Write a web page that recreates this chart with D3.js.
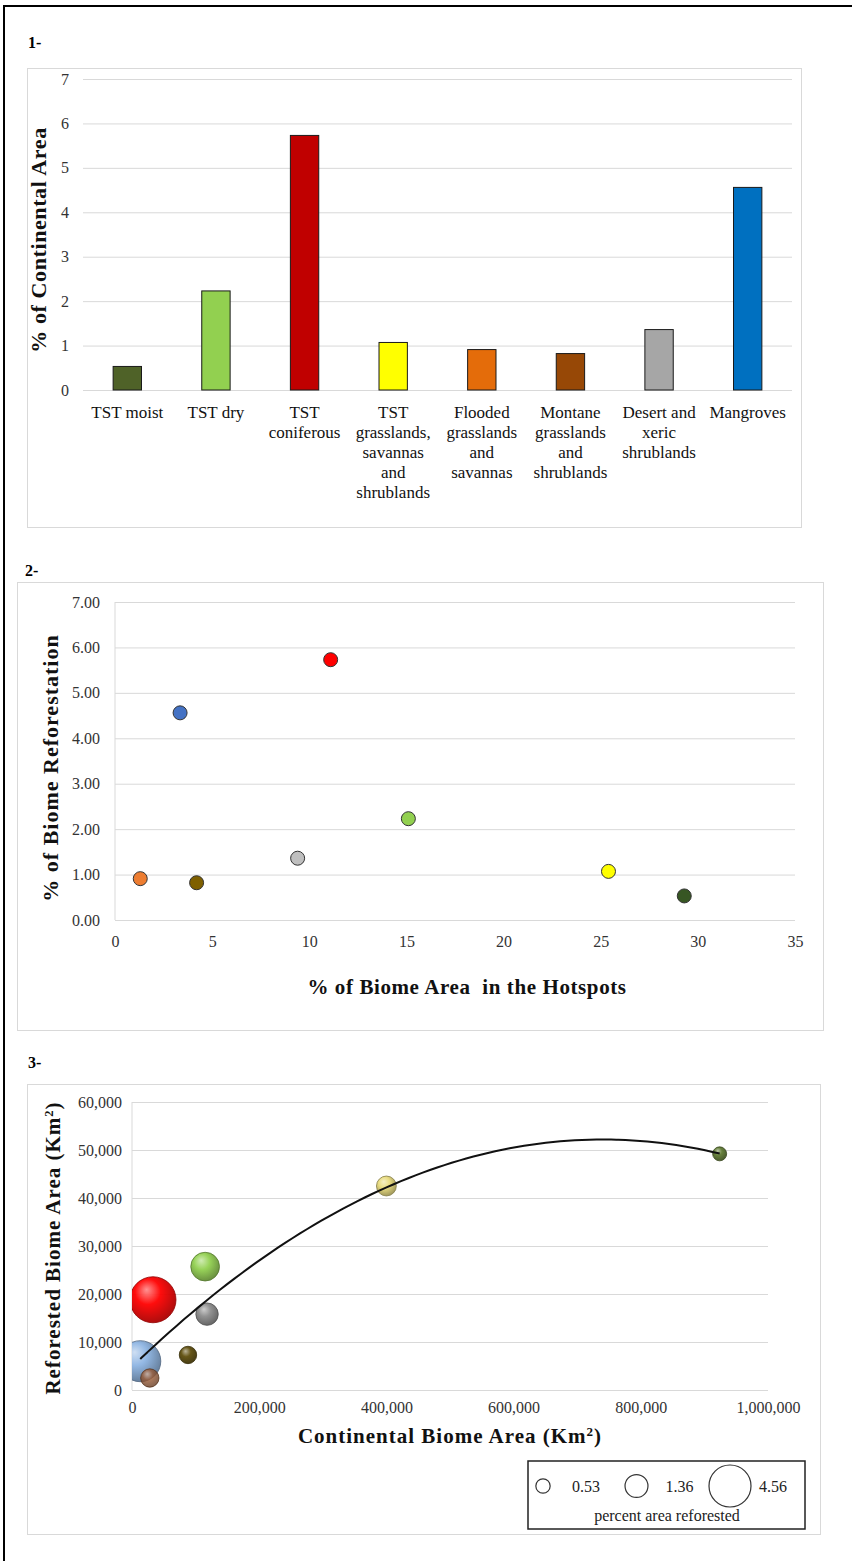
<!DOCTYPE html>
<html>
<head>
<meta charset="utf-8">
<script src="https://cdn.jsdelivr.net/npm/d3@7"></script>
<style>
body { margin: 0; background: #fff; }
svg text { font-family: "Liberation Serif", "Times New Roman", serif; }
</style>
</head>
<body>
<div id="app"></div>
<script>
// DATA ------------------------------------------------------
var categories = ["TST moist", "TST dry", "TST coniferous",
  "TST grasslands, savannas and shrublands", "Flooded grasslands and savannas",
  "Montane grasslands and shrublands", "Desert and xeric shrublands", "Mangroves"];
// how excel wrapped the category names
var labelLines = [["TST moist"], ["TST dry"], ["TST", "coniferous"],
  ["TST", "grasslands,", "savannas", "and", "shrublands"],
  ["Flooded", "grasslands", "and", "savannas"],
  ["Montane", "grasslands", "and", "shrublands"],
  ["Desert and", "xeric", "shrublands"], ["Mangroves"]];
var pctReforested = [0.53, 2.23, 5.73, 1.07, 0.91, 0.82, 1.36, 4.56];   // % of biome reforested
var pctInHotspots = [29.3, 15.1, 11.1, 25.4, 1.3, 4.2, 9.4, 3.35];     // % of biome area in hotspots
var continentalArea = [924000, 115000, 33000, 400000, 28000, 88000, 118000, 13000]; // km2
var reforestedArea = [49200, 25700, 18800, 42500, 2500, 7300, 15800, 6000];        // km2
var legendValues = [0.53, 1.36, 4.56];

var barColors = ["#4f6228", "#92d050", "#c00000", "#ffff00", "#e46c0a", "#974806", "#a6a6a6", "#0070c0"];
var dotColors = ["#375623", "#92d050", "#ff0000", "#ffff00", "#ed7d31", "#7f6000", "#bfbfbf", "#4472c4"];
var bubbleColors = ["#5f7a32", "#92d050", "#ff0000", "#e9db7c", "#9a5a34", "#5e4d0c", "#8c8c8c", "#8db4e2"];

var W = 852, H = 1561;
var grid = "#d9d9d9";
var serif = "'Liberation Serif', 'Times New Roman', serif";

var svg = d3.select("#app").append("svg")
    .attr("width", W)
    .attr("height", H)
    .style("font-family", serif);
var defs = svg.append("defs");

//page frame (only top + left survive the crop)
svg.append("line").attr("x1", 3).attr("x2", W).attr("y1", 6).attr("y2", 6)
    .attr("stroke", "#000").attr("stroke-width", 2);
svg.append("line").attr("x1", 4).attr("x2", 4).attr("y1", 5).attr("y2", H)
    .attr("stroke", "#000").attr("stroke-width", 2);

//chart boxes
function box(x0, y0, x1, y1) {
  svg.append("rect")
      .attr("x", x0 + 0.5).attr("y", y0 + 0.5)
      .attr("width", x1 - x0).attr("height", y1 - y0)
      .attr("fill", "none").attr("stroke", grid);
}
box(27, 68, 801, 527);
box(17, 582, 823, 1030);
box(27, 1084, 820, 1534);

//panel numbers
[["1-", 28, 48], ["2-", 25, 576], ["3-", 28, 1068]].forEach(function(p) {
  svg.append("text").text(p[0])
      .attr("x", p[1]).attr("y", p[2])
      .attr("font-size", 16).attr("font-weight", "bold").attr("fill", "#000");
});

function styleAxis(g) {
  g.select(".domain").remove();
  g.selectAll(".tick line").attr("stroke", grid);
  g.selectAll(".tick text").attr("font-size", 16).attr("fill", "#333");
}

function yTitle(x, y, size, spacing, txt, sup) {
  var t = svg.append("text")
      .attr("transform", "translate(" + x + "," + y + ") rotate(-90)")
      .attr("text-anchor", "middle")
      .attr("font-size", size)
      .attr("font-weight", "bold")
      .attr("letter-spacing", spacing)
      .attr("fill", "#111")
      .text(txt);
  if (sup) {
    t.append("tspan").attr("baseline-shift", "super").attr("font-size", size * 0.6).text("2");
    t.append("tspan").text(")");
  }
}

//---------------------------------Panel 1: bars-----------------------------------//
var x1 = d3.scaleBand().domain(categories).range([83, 792]).paddingInner(0.68).paddingOuter(0.34);
var y1 = d3.scaleLinear().domain([0, 7]).range([390, 79]);

svg.append("g")
    .attr("transform", "translate(83,0)")
    .call(d3.axisLeft(y1).ticks(7).tickSize(-(792 - 83)).tickPadding(14))
    .call(styleAxis);

svg.append("g").selectAll("rect")
  .data(categories)
  .join("rect")
    .attr("x", function(d) { return x1(d); })
    .attr("width", x1.bandwidth())
    .attr("y", function(d, i) { return y1(pctReforested[i]); })
    .attr("height", function(d, i) { return y1(0) - y1(pctReforested[i]); })
    .attr("fill", function(d, i) { return barColors[i]; })
    .attr("stroke", "#1a1a1a")
    .attr("stroke-width", 1);

var lab = svg.append("g").selectAll("text")
  .data(categories)
  .join("text")
    .attr("text-anchor", "middle")
    .attr("font-size", 17)
    .attr("fill", "#111")
    .attr("y", 418);
lab.each(function(d, i) {
  var t = d3.select(this);
  labelLines[i].forEach(function(line, j) {
    t.append("tspan")
        .attr("x", x1(d) + x1.bandwidth() / 2)
        .attr("dy", j === 0 ? 0 : 20)
        .text(line);
  });
});

yTitle(46, 240, 22, 0.6, "% of Continental Area");

//---------------------------------Panel 2: scatter-----------------------------------//
var x2 = d3.scaleLinear().domain([0, 35]).range([115, 795]);
var y2 = d3.scaleLinear().domain([0, 7]).range([920, 602]);

svg.append("g")
    .attr("transform", "translate(115,0)")
    .call(d3.axisLeft(y2).ticks(7).tickFormat(d3.format(".2f")).tickSize(-(795 - 115)).tickPadding(15))
    .call(styleAxis);
svg.append("g")
    .attr("transform", "translate(0,920)")
    .call(d3.axisBottom(x2).ticks(7).tickSize(0).tickPadding(16))
    .call(styleAxis);
svg.append("line").attr("x1", 115).attr("x2", 115).attr("y1", 602).attr("y2", 920).attr("stroke", grid);

svg.append("g").selectAll("circle")
  .data(categories)
  .join("circle")
    .attr("cx", function(d, i) { return x2(pctInHotspots[i]); })
    .attr("cy", function(d, i) { return y2(pctReforested[i]); })
    .attr("r", 7)
    .attr("fill", function(d, i) { return dotColors[i]; })
    .attr("stroke", "#333")
    .attr("stroke-width", 1);

svg.append("text")
    .attr("x", 467).attr("y", 994)
    .attr("text-anchor", "middle")
    .attr("font-size", 21).attr("font-weight", "bold").attr("fill", "#111")
    .attr("letter-spacing", 0.6)
    .style("white-space", "pre")
    .text("% of Biome Area  in the Hotspots");

yTitle(58, 768, 22, 1, "% of Biome Reforestation");

//---------------------------------Panel 3: bubbles-----------------------------------//
var x3 = d3.scaleLinear().domain([0, 1000000]).range([132, 768]);
var y3 = d3.scaleLinear().domain([0, 60000]).range([1390, 1102]);
var r3 = d3.scaleSqrt().domain([0, d3.max(pctReforested)]).range([0, 23]);

svg.append("g")
    .attr("transform", "translate(132,0)")
    .call(d3.axisLeft(y3).ticks(6).tickFormat(d3.format(",")).tickSize(-(768 - 132)).tickPadding(10))
    .call(styleAxis);
svg.append("g")
    .attr("transform", "translate(0,1390)")
    .call(d3.axisBottom(x3).ticks(5).tickFormat(d3.format(",")).tickSize(0).tickPadding(12))
    .call(styleAxis);
svg.append("line").attr("x1", 132).attr("x2", 132).attr("y1", 1102).attr("y2", 1390).attr("stroke", grid);

defs.append("clipPath").attr("id", "plot3")
  .append("rect").attr("x", 132).attr("y", 1095).attr("width", 640).attr("height", 296);

//3d-ish shading like excel bubbles
bubbleColors.forEach(function(c, i) {
  var gr = defs.append("radialGradient").attr("id", "bub" + i)
      .attr("cx", "42%").attr("cy", "38%").attr("r", "62%")
      .attr("fx", "36%").attr("fy", "28%");
  gr.append("stop").attr("offset", "0%").attr("stop-color", d3.interpolateRgb(c, "#fff")(0.55));
  gr.append("stop").attr("offset", "45%").attr("stop-color", c);
  gr.append("stop").attr("offset", "100%").attr("stop-color", d3.color(c).darker(1.1));
});

var order = d3.range(categories.length).sort(function(a, b) { return pctReforested[b] - pctReforested[a]; });
var bub = svg.append("g").attr("clip-path", "url(#plot3)");
bub.selectAll("circle")
  .data(order)
  .join("circle")
    .attr("cx", function(i) { return x3(continentalArea[i]); })
    .attr("cy", function(i) { return y3(reforestedArea[i]); })
    .attr("r", function(i) { return r3(pctReforested[i]); })
    .attr("fill", function(i) { return "url(#bub" + i + ")"; })
    .attr("fill-opacity", function(i) { return i === 4 ? 0.8 : 0.95; })
    .attr("stroke", function(i) { return d3.color(bubbleColors[i]).darker(1.6); })
    .attr("stroke-width", 0.8);

//polynomial (order 2) trendline, least squares like excel
function polyfit2(xs, ys) {
  var S = [0, 0, 0, 0, 0], T = [0, 0, 0];
  xs.forEach(function(x, i) {
    for (var k = 0; k < 5; k++) S[k] += Math.pow(x, k);
    for (var k = 0; k < 3; k++) T[k] += Math.pow(x, k) * ys[i];
  });
  var A = [[S[0], S[1], S[2], T[0]], [S[1], S[2], S[3], T[1]], [S[2], S[3], S[4], T[2]]];
  for (var c = 0; c < 3; c++) {
    for (var r = c + 1; r < 3; r++) {
      var f = A[r][c] / A[c][c];
      for (var k = c; k < 4; k++) A[r][k] -= f * A[c][k];
    }
  }
  var sol = [0, 0, 0];
  for (var r = 2; r >= 0; r--) {
    var s = A[r][3];
    for (var k = r + 1; k < 3; k++) s -= A[r][k] * sol[k];
    sol[r] = s / A[r][r];
  }
  return sol;
}
var kx = continentalArea.map(function(v) { return v / 1000; });
var ky = reforestedArea.map(function(v) { return v / 1000; });
var coef = polyfit2(kx, ky);
var ext = d3.extent(kx);
var trend = d3.range(81).map(function(j) {
  var xv = ext[0] + (ext[1] - ext[0]) * j / 80;
  return [xv * 1000, (coef[0] + coef[1] * xv + coef[2] * xv * xv) * 1000];
});
svg.append("path")
    .datum(trend)
    .attr("fill", "none")
    .attr("stroke", "#111")
    .attr("stroke-width", 2)
    .attr("d", d3.line()
      .x(function(d) { return x3(d[0]); })
      .y(function(d) { return y3(d[1]); })
      .curve(d3.curveBasis));

var xt = svg.append("text")
    .attr("x", 450).attr("y", 1443)
    .attr("text-anchor", "middle")
    .attr("font-size", 21).attr("font-weight", "bold").attr("fill", "#111")
    .attr("letter-spacing", 1)
    .text("Continental Biome Area (Km");
xt.append("tspan").attr("baseline-shift", "super").attr("font-size", 13).text("2");
xt.append("tspan").text(")");

yTitle(60, 1248, 21, 1, "Reforested Biome Area (Km", true);

//legend
svg.append("rect")
    .attr("x", 528).attr("y", 1461)
    .attr("width", 277).attr("height", 68)
    .attr("fill", "#fff").attr("stroke", "#222").attr("stroke-width", 1.5);
var rl = d3.scaleSqrt().domain([0, d3.max(legendValues)]).range([0, 21]);
var lx = d3.scalePoint().domain(legendValues).range([543, 730]);
var li = svg.append("g").selectAll("g")
  .data(legendValues)
  .join("g");
li.append("circle")
    .attr("cx", function(d) { return lx(d); })
    .attr("cy", 1486)
    .attr("r", function(d) { return rl(d); })
    .attr("fill", "none")
    .attr("stroke", "#333")
    .attr("stroke-width", 1.2);
li.append("text")
    .attr("x", function(d) { return lx(d) + 29; })
    .attr("y", 1492)
    .attr("font-size", 16).attr("fill", "#222")
    .text(function(d) { return d3.format(".2f")(d); });
svg.append("text")
    .attr("x", 667).attr("y", 1521)
    .attr("text-anchor", "middle")
    .attr("font-size", 16).attr("fill", "#222")
    .text("percent area reforested");

svg.selectAll("text").attr("font-family", serif);
</script>
</body>
</html>
